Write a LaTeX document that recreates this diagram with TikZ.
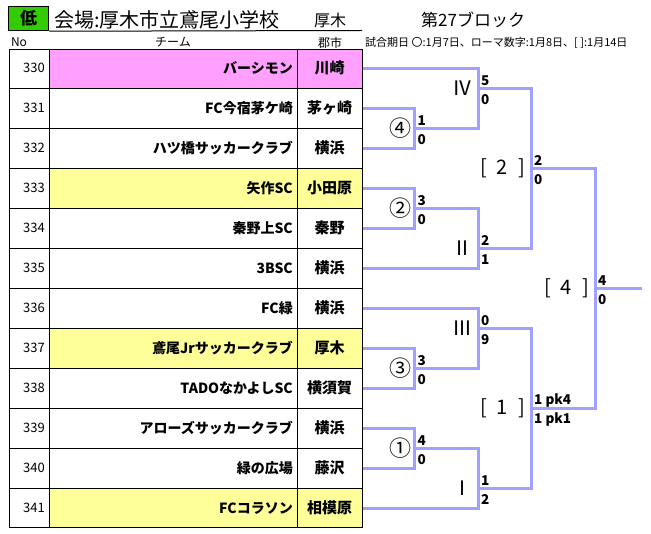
\documentclass[tikz,border=0pt]{standalone}
\usepackage{fontspec}
\setmainfont{Noto Sans CJK JP}
\usepackage{tikz}
\definecolor{bracketblue}{RGB}{160,160,255}
\definecolor{pinkrow}{RGB}{255,160,255}
\definecolor{yellowrow}{RGB}{255,255,153}
\definecolor{lowgreen}{RGB}{51,204,0}

\begin{document}
\begin{tikzpicture}[x=1pt,y=-1pt]
\tikzset{bracket/.style={bracketblue,line width=3pt},
  grid/.style={black,line width=1pt},
  teamno/.style={anchor=east,inner sep=0pt,font=\fontsize{13}{15}\selectfont},
  teamname/.style={anchor=east,inner sep=0pt,font=\fontsize{14}{16}\selectfont\bfseries},
  cityname/.style={inner sep=0pt,font=\fontsize{15}{17}\selectfont\bfseries},
  headlabel/.style={inner sep=0pt,font=\fontsize{12}{14}\selectfont},
  matchlabel/.style={anchor=east,inner sep=0pt,font=\fontsize{20}{22}\selectfont},
  circlabel/.style={matchlabel,font=\fontsize{22}{24}\selectfont},
  score/.style={anchor=west,inner sep=0pt,xshift=3pt,font=\fontsize{13.5}{15}\selectfont\bfseries},
  scoreup/.style={score,yshift=8pt},
  scoredown/.style={score,yshift=-11.5pt}}
\useasboundingbox (0,0) rectangle (651,534);

% header
\node[draw,line width=1.5pt,fill=lowgreen,minimum width=40pt,minimum height=24pt,inner sep=0pt,font=\fontsize{17}{19}\selectfont\bfseries] (low) at (28.5,18.5) {低};
\node[anchor=west,inner sep=0pt,font=\fontsize{20}{22}\selectfont] (venue) at (54,19.5) {会場:厚木市立鳶尾小学校};
\node[inner sep=0pt,font=\fontsize{16}{18}\selectfont] (area) at (330,20) {厚木};
\coordinate (ruleend) at (362,30.5);
\draw[line width=1pt] (low.south east) -- (ruleend);
\node[anchor=west,inner sep=0pt,font=\fontsize{17}{19}\selectfont] (block) at (421,19.5) {第27ブロック};
\node[headlabel] (hno) at (19,42.5) {No};
\node[headlabel] (hteam) at (173,42.5) {チーム};
\node[headlabel] (hcity) at (330,42.5) {郡市};
\node[anchor=west,inner sep=0pt,font=\fontsize{11}{13}\selectfont] (dates) at (365,43) {試合期日 〇:1月7日、ローマ数字:1月8日、[ ]:1月14日};

% teams
\foreach \no/\team/\city/\col [count=\i from 0] in {330/バーシモン/川崎/pinkrow,
  331/FC今宿茅ケ崎/茅ヶ崎/white, 332/ハツ橋サッカークラブ/横浜/white,
  333/矢作SC/小田原/yellowrow, 334/秦野上SC/秦野/white, 335/3BSC/横浜/white,
  336/FC緑/横浜/white, 337/鳶尾Jrサッカークラブ/厚木/yellowrow,
  338/TADOなかよしSC/横須賀/white, 339/アローズサッカークラブ/横浜/white,
  340/緑の広場/藤沢/white, 341/FCコラソン/相模原/yellowrow}
{
  \fill[\col] (49,{max(49.3,48.3+40*\i)}) rectangle (362,{min(527,88.3+40*\i)});
  \node[teamno] (n\no) at (45,{68.3+40*\i}) {\no};
  \node[teamname] (t\no) at (293,{68.3+40*\i}) {\team};
  \node[cityname] (c\no) at (329.5,{68.3+40*\i}) {\city};
  \coordinate (r\no) at (362,{68.3+40*\i});
}

% matches
\coordinate (m4) at (414.3,128.3);
\coordinate (mIV) at (478,88.3);
\coordinate (m2) at (414.3,208.3);
\coordinate (mII) at (478,248.3);
\coordinate (s2) at (531,168.3);
\coordinate (m3) at (414.3,368.3);
\coordinate (mIII) at (478,328.3);
\coordinate (m1) at (414.3,448.3);
\coordinate (mI) at (478,488.3);
\coordinate (s1) at (531,408.3);
\coordinate (s4) at (595,288.3);
\coordinate (win) at (642,288.3);

\draw[bracket] (r331) -| (m4) |- (r332);
\draw[bracket] (r330) -| (mIV) |- (m4);
\draw[bracket] (r333) -| (m2) |- (r334);
\draw[bracket] (m2) -| (mII) |- (r335);
\draw[bracket] (mIV) -| (s2) |- (mII);
\draw[bracket] (r337) -| (m3) |- (r338);
\draw[bracket] (r336) -| (mIII) |- (m3);
\draw[bracket] (r339) -| (m1) |- (r340);
\draw[bracket] (m1) -| (mI) |- (r341);
\draw[bracket] (mIII) -| (s1) |- (mI);
\draw[bracket] (s2) -| (s4) |- (s1);
\draw[bracket] (s4) -- (win);

\node[circlabel] (l4) at ([xshift=-3pt]m4) {④};
\node[circlabel] (l2) at ([xshift=-3pt]m2) {②};
\node[circlabel] (l3) at ([xshift=-3pt]m3) {③};
\node[circlabel] (l1) at ([xshift=-3pt]m1) {①};
\node[matchlabel] (lIV) at ([xshift=-5pt]mIV) {Ⅳ};
\node[matchlabel] (lII) at ([xshift=-5pt]mII) {Ⅱ};
\node[matchlabel] (lIII) at ([xshift=-5pt]mIII) {Ⅲ};
\node[matchlabel] (lI) at ([xshift=-5pt]mI) {Ⅰ};
\node[matchlabel] (ls2) at ([xshift=-6pt]s2) {[\enspace2\enspace]};
\node[matchlabel] (ls1) at ([xshift=-6pt]s1) {[\enspace1\enspace]};
\node[matchlabel] (ls4) at ([xshift=-6pt]s4) {[\enspace4\enspace]};

% scores
\node[scoreup] (a4) at (m4) {1};
\node[scoredown] (b4) at (m4) {0};
\node[scoreup] (aIV) at (mIV) {5};
\node[scoredown] (bIV) at (mIV) {0};
\node[scoreup] (a2) at (m2) {3};
\node[scoredown] (b2) at (m2) {0};
\node[scoreup] (aII) at (mII) {2};
\node[scoredown] (bII) at (mII) {1};
\node[scoreup] (as2) at (s2) {2};
\node[scoredown] (bs2) at (s2) {0};
\node[scoreup] (a3) at (m3) {3};
\node[scoredown] (b3) at (m3) {0};
\node[scoreup] (aIII) at (mIII) {0};
\node[scoredown] (bIII) at (mIII) {9};
\node[scoreup] (a1) at (m1) {4};
\node[scoredown] (b1) at (m1) {0};
\node[scoreup] (aI) at (mI) {1};
\node[scoredown] (bI) at (mI) {2};
\node[scoreup] (as1) at (s1) {1 pk4};
\node[scoredown] (bs1) at (s1) {1 pk1};
\node[scoreup] (as4) at (s4) {4};
\node[scoredown] (bs4) at (s4) {0};

% table lines
\draw[grid] (9,49.3) rectangle (362,527);
\foreach \i in {1,...,11} \draw[grid] (9,{48.3+40*\i}) -- (362,{48.3+40*\i});
\draw[grid] (49,49.3) -- (49,527);
\draw[grid] (297,49.3) -- (297,527);

\end{tikzpicture}
\end{document}
